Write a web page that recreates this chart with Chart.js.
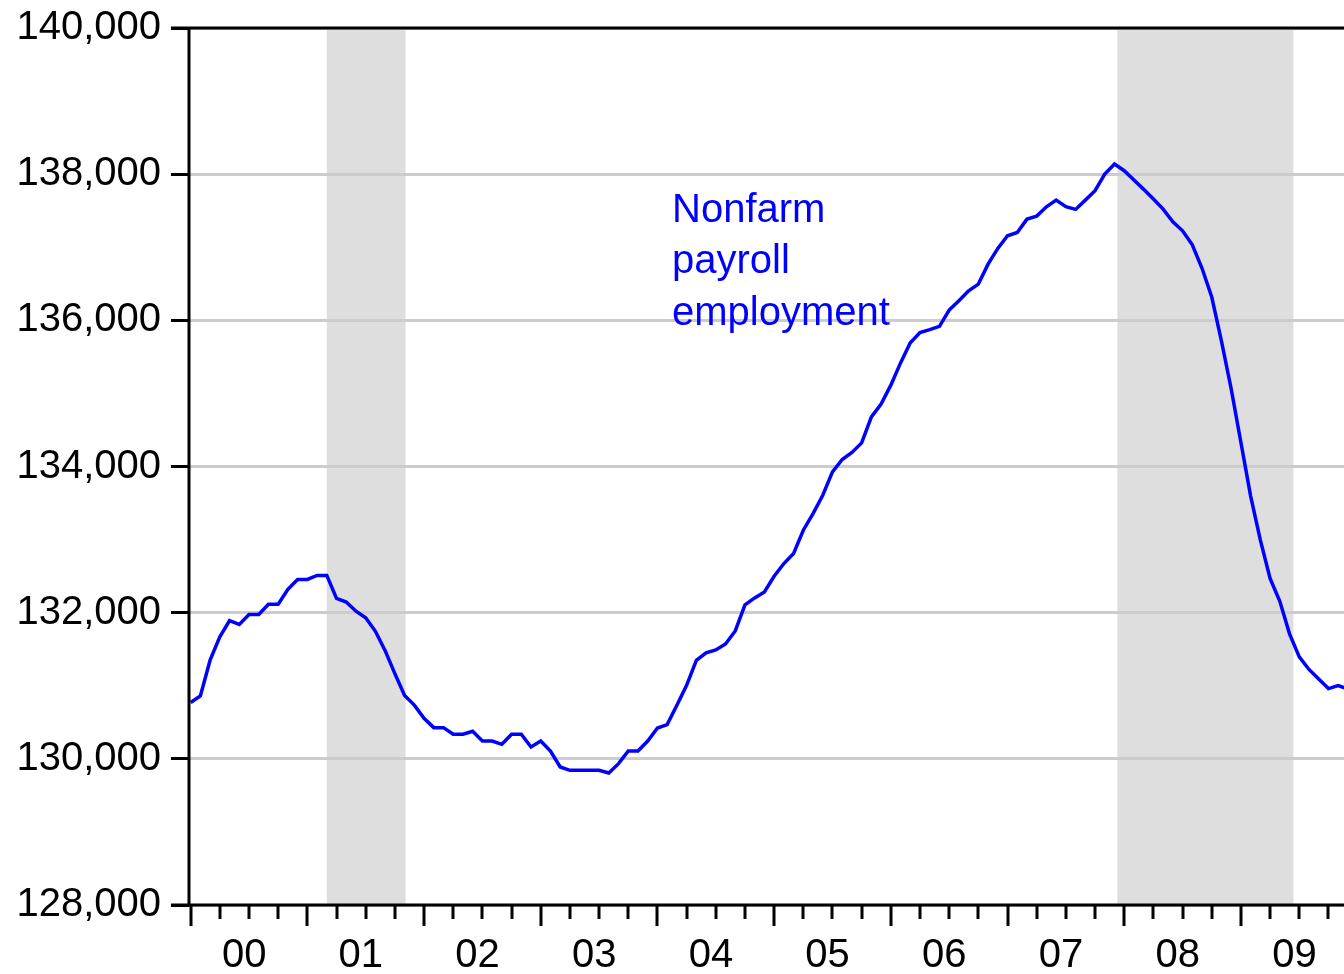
<!DOCTYPE html>
<html><head><meta charset="utf-8">
<script src="https://cdn.jsdelivr.net/npm/chart.js@4.4.1/dist/chart.umd.min.js"></script>
<style>html,body{margin:0;padding:0;background:#fff;overflow:hidden}#wrap{width:1344px;height:974px;position:relative}</style>
</head><body><div id="wrap"><canvas id="c" width="1344" height="974"></canvas></div>
<script>
// Monthly nonfarm payroll employment (thousands), Jan 2000 onward
const startYear = 2000;
const payroll = [
  130770,130860,131350,131670,131890,131840,131975,131975,132115,132115,132320,132455,
  132455,132510,132510,132195,132145,132020,131930,131745,131480,131165,130868,130735,
  130555,130427,130427,130336,130336,130377,130244,130244,130199,130336,130336,130162,
  130244,130107,129888,129843,129843,129843,129843,129806,129934,130107,130107,130244,
  130422,130468,130733,131006,131349,131449,131490,131572,131750,132108,132202,132284,
  132498,132672,132809,133128,133356,133607,133926,134096,134192,134323,134679,134853,
  135113,135418,135692,135834,135872,135918,136140,136267,136404,136496,136769,136984,
  137157,137203,137385,137426,137554,137645,137554,137518,137645,137773,138001,138138,
  138047,137919,137792,137659,137522,137348,137225,137033,136712,136319,135717,135062,
  134329,133595,132993,132470,132155,131710,131395,131223,131091,130961,131002,130955
];
const yearLabels = ['00','01','02','03','04','05','06','07','08','09'];
const yTicks = [128000,130000,132000,134000,136000,138000,140000];
// recessions, in months since Jan 2000
const recessionStart = [14, 95.3];
const recessionEnd = [22.1, 113.4];
const noteLines = ['Nonfarm','payroll','employment'];

const FONT = "'Liberation Sans', Arial, Helvetica, sans-serif";

const decor = {
  id: 'decor',
  beforeDraw(chart) {
    const {ctx, chartArea: a, scales: {x}} = chart;
    ctx.save();
    ctx.fillStyle = '#dedede';
    recessionStart.forEach((s, i) => {
      const x0 = x.getPixelForValue(s), x1 = x.getPixelForValue(recessionEnd[i]);
      ctx.fillRect(x0, a.top, x1 - x0, a.bottom - a.top);
    });
    ctx.restore();
  },
  afterDraw(chart, args, opts) {
    const {ctx, chartArea: a, scales: {x, y}} = chart;
    ctx.save();
    // axis frame
    ctx.strokeStyle = '#000';
    ctx.lineWidth = 3;
    ctx.beginPath();
    ctx.moveTo(a.left - 18, a.top); ctx.lineTo(chart.width, a.top);
    ctx.moveTo(a.left - 18, a.bottom); ctx.lineTo(chart.width, a.bottom);
    ctx.moveTo(a.left, a.top - 1.5); ctx.lineTo(a.left, a.bottom + 1.5);
    ctx.stroke();
    // x ticks: quarters, longer at years
    ctx.lineWidth = 3;
    ctx.beginPath();
    for (let m = 0; m <= payroll.length; m += 3) {
      const px = Math.round(x.getPixelForValue(m));
      if (px > chart.width) break;
      const len = (m % 12 === 0) ? 21 : 14;
      ctx.moveTo(px, a.bottom); ctx.lineTo(px, a.bottom + len);
    }
    ctx.stroke();
    // year labels
    ctx.fillStyle = '#000';
    ctx.font = '40px ' + FONT;
    ctx.textAlign = 'center';
    ctx.textBaseline = 'alphabetic';
    yearLabels.forEach((lab, i) => {
      ctx.fillText(lab, x.getPixelForValue(i * 12 + 5.5), a.bottom + 62);
    });
    // annotation
    ctx.fillStyle = '#0000ff';
    ctx.font = '40px ' + FONT;
    ctx.textAlign = 'left';
    const nx = x.getPixelForValue(opts.at[0]);
    const ny = y.getPixelForValue(opts.at[1]);
    noteLines.forEach((t, i) => ctx.fillText(t, nx, ny + i * 51.7));
    ctx.restore();
  }
};

new Chart(document.getElementById('c'), {
  type: 'line',
  data: {
    datasets: [{
      data: payroll.map((v, i) => ({x: i, y: v})),
      borderColor: '#0000ff',
      borderWidth: 3.5,
      pointRadius: 0,
      tension: 0,
      fill: false
    }]
  },
  options: {
    responsive: false,
    animation: false,
    devicePixelRatio: 1,
    layout: {padding: {top: 28, right: 0, left: 0, bottom: 0}},
    plugins: {
      legend: {display: false},
      tooltip: {enabled: false},
      decor: {at: [49.5, 137350]}
    },
    scales: {
      x: {
        type: 'linear', min: -0.17, max: 118.6,
        ticks: {display: false},
        grid: {display: false, drawTicks: false},
        border: {display: false},
        afterFit(s) { s.height = 69; s.paddingLeft = 0; s.paddingRight = 0; }
      },
      y: {
        min: 128000, max: 140000,
        afterBuildTicks(s) { s.ticks = yTicks.map(v => ({value: v})); },
        ticks: {
          autoSkip: false,
          color: '#000',
          padding: 10,
          font: {family: FONT, size: 40},
          callback: v => v.toLocaleString('en-US')
        },
        grid: {color: '#cccccc', lineWidth: 3, tickLength: 18, tickColor: '#000', tickWidth: 3, drawTicks: true},
        border: {display: false},
        afterFit(s) { s.width = 189; s.paddingTop = 0; s.paddingBottom = 0; }
      }
    }
  },
  plugins: [decor]
});
</script>
</body></html>
